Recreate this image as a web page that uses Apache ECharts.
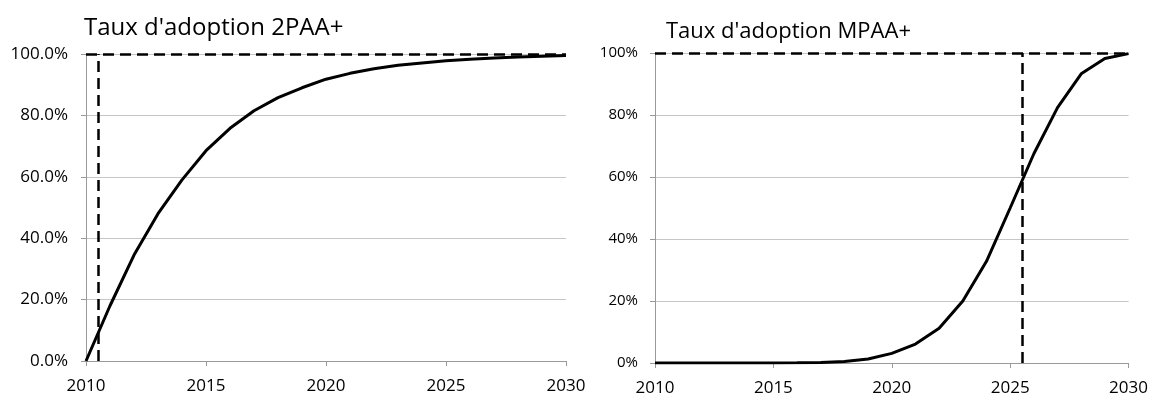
<!DOCTYPE html>
<html>
<head>
<meta charset="utf-8">
<title>Taux d'adoption</title>
<script src="https://cdn.jsdelivr.net/npm/echarts@6/dist/echarts.min.js"></script>
<style>
  html, body { margin: 0; padding: 0; background: #fff; }
  #chart { width: 1151px; height: 397px; }
</style>
</head>
<body>
<div id="chart"></div>
<script>
// années (axe x)
var years = [2010, 2011, 2012, 2013, 2014, 2015, 2016, 2017, 2018, 2019, 2020,
             2021, 2022, 2023, 2024, 2025, 2026, 2027, 2028, 2029, 2030];
// taux d'adoption 2PAA+ (%)
var adoption2PAA = [0, 18, 34.5, 48, 59, 68.5, 75.8, 81.5, 85.8, 89, 91.8,
                    93.7, 95.2, 96.3, 97.1, 97.8, 98.3, 98.7, 99, 99.3, 99.5];
// taux d'adoption MPAA+ (%)
var adoptionMPAA = [0, 0, 0, 0, 0, 0, 0.05, 0.2, 0.5, 1.3, 3.1,
                    6.1, 11.2, 20, 32.8, 50, 67.5, 82.4, 93.3, 98.2, 99.8];
// lignes de repère (pointillés)
var ref2PAA = { year: 2010.5, level: 100 };
var refMPAA = { year: 2025.5, level: 100 };
// graduations
var yearTicks = { min: 2010, max: 2030, step: 5 };
var pctTicks = { min: 0, max: 100, step: 20 };

function pairs(xs, ys) {
  return xs.map(function (x, i) { return [x, ys[i]]; });
}

var font = '"Open Sans", "Liberation Sans", sans-serif';
var axisGrey = '#9a9a9a';
var gridGrey = '#c6c6c6';

function xAxisCfg(gridIndex, margin) {
  return {
    type: 'value', gridIndex: gridIndex,
    min: yearTicks.min, max: yearTicks.max, interval: yearTicks.step,
    axisLine: { show: true, lineStyle: { color: axisGrey, width: 1 } },
    axisTick: { show: true, length: 5, lineStyle: { color: axisGrey } },
    splitLine: { show: false },
    axisLabel: { color: '#000', fontFamily: font, fontSize: 17, margin: margin,
                 formatter: function (v) { return String(v); } }
  };
}

function yAxisCfg(gridIndex, fontSize, margin, decimals) {
  return {
    type: 'value', gridIndex: gridIndex,
    min: pctTicks.min, max: pctTicks.max, interval: pctTicks.step,
    axisLine: { show: true, lineStyle: { color: axisGrey, width: 1 } },
    axisTick: { show: true, length: 5, lineStyle: { color: axisGrey } },
    splitLine: { show: true, lineStyle: { color: gridGrey, width: 1 } },
    axisLabel: { color: '#000', fontFamily: font, fontSize: fontSize, margin: margin,
                 formatter: function (v) { return v.toFixed(decimals) + '%'; } }
  };
}

function refLines(ref) {
  return {
    silent: true,
    symbol: ['none', 'none'],
    label: { show: false },
    lineStyle: { color: '#000', width: 2.5, type: [11, 6] },
    data: [{ xAxis: ref.year }, { yAxis: ref.level }]
  };
}

var chart = echarts.init(document.getElementById('chart'));
var option = {
  animation: false,
  backgroundColor: '#fff',
  title: [
    { text: "Taux d'adoption 2PAA+", left: 79, top: 11,
      textStyle: { fontFamily: font, fontSize: 24, fontWeight: 'normal', color: '#000' } },
    { text: "Taux d'adoption MPAA+", left: 661, top: 16,
      textStyle: { fontFamily: font, fontSize: 22, fontWeight: 'normal', color: '#000' } }
  ],
  grid: [
    { left: 86, right: 585, top: 54, bottom: 36 },
    { left: 655, right: 21, top: 53, bottom: 30 }
  ],
  xAxis: [xAxisCfg(0, 17), xAxisCfg(1, 17)],
  yAxis: [yAxisCfg(0, 17, 18, 1), yAxisCfg(1, 15, 17, 0)],
  series: [
    {
      type: 'line', xAxisIndex: 0, yAxisIndex: 0,
      data: pairs(years, adoption2PAA),
      showSymbol: false, smooth: false,
      lineStyle: { color: '#000', width: 3 },
      markLine: refLines(ref2PAA),
      z: 3
    },
    {
      type: 'line', xAxisIndex: 1, yAxisIndex: 1,
      data: pairs(years, adoptionMPAA),
      showSymbol: false, smooth: false,
      lineStyle: { color: '#000', width: 3 },
      markLine: refLines(refMPAA),
      z: 3
    }
  ]
};
chart.setOption(option);
</script>
</body>
</html>
